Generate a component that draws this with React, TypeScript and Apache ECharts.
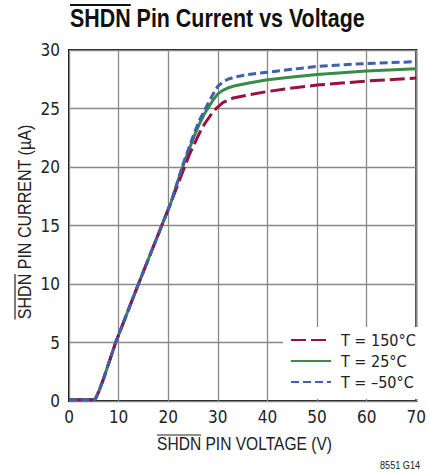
import React, { useEffect, useRef } from "react";
import * as echarts from "echarts";

// ---- data ----
const seriesNames = ["T = 150°C", "T = 25°C", "T = –50°C"];

// shared rising part of all three curves
const lowerVoltage = [0, 5.0, 5.4, 6.0, 7.0, 9.4, 14.0, 18.7, 20.5];
const lowerCurrent = [0.1, 0.1, 0.25, 0.8, 1.95, 5.0, 10.0, 15.0, 16.9];

const voltage150 = [23.3, 24.3, 25.3, 26.3, 27.2, 28.0, 29.0, 29.8, 31.0, 33.1, 36.0, 40.0, 45.0, 50.0, 60.0, 70.0];
const current150 = [20.0, 21.1, 22.0, 22.9, 23.6, 24.1, 24.7, 25.05, 25.5, 25.9, 26.15, 26.45, 26.75, 27.0, 27.35, 27.6];

const voltage25 = [22.9, 24.3, 25.3, 26.3, 27.3, 28.2, 29.0, 30.0, 31.0, 32.0, 33.5, 36.0, 40.0, 45.0, 50.0, 60.0, 70.0];
const current25 = [20.0, 21.6, 22.7, 23.7, 24.55, 25.15, 25.7, 26.25, 26.55, 26.75, 26.95, 27.15, 27.45, 27.7, 27.9, 28.2, 28.4];

const voltageM50 = [22.8, 24.3, 25.3, 26.3, 27.7, 28.5, 29.4, 30.0, 31.0, 32.0, 33.5, 36.0, 40.0, 45.0, 50.0, 60.0, 70.0];
const currentM50 = [20.0, 21.8, 22.95, 24.0, 25.15, 25.8, 26.5, 26.9, 27.25, 27.5, 27.7, 27.9, 28.1, 28.35, 28.6, 28.85, 29.0];

const xMin = 0, xMax = 70, xStep = 10;
const yMin = 0, yMax = 30, yStep = 5;

const titleText = "SHDN Pin Current vs Voltage";
const yName = "SHDN PIN CURRENT (µA)";
const xName = "SHDN PIN VOLTAGE (V)";
const overlined = "SHDN";
const figId = "8551 G14";

const TICK_FONT = '"DejaVu Sans Condensed", "Liberation Sans", sans-serif';
const TEXT_FONT = '"Liberation Sans", Arial, sans-serif';

function zip(xs: number[], ys: number[]) {
  return xs.map((x, i) => [x, ys[i]]);
}

function textWidth(text: string, size: number, weight: string) {
  const ctx = document.createElement("canvas").getContext("2d")!;
  ctx.font = `${weight} ${size}px ${TEXT_FONT}`;
  return ctx.measureText(text).width;
}

export default function App() {
  const ref = useRef<HTMLDivElement>(null);

  useEffect(() => {
    const chart = echarts.init(ref.current!, undefined, { renderer: "svg" });
    const lower = zip(lowerVoltage, lowerCurrent);

    // title
    const titleSize = 25;
    const titleX = 70, titleY = 18, titleW = 295;
    const sTitle = titleW / textWidth(titleText, titleSize, "bold");
    const wTitleS = textWidth(overlined, titleSize, "bold") * sTitle;
    // x axis name
    const nameSize = 18;
    const xNameCx = 244.5, xNameCy = 444, xNameW = 175;
    const sX = xNameW / textWidth(xName, nameSize, "normal");
    const wXS = textWidth(overlined, nameSize, "normal") * sX;
    // y axis name
    const yNameCx = 25, yNameCy = 222, yNameW = 195;
    const sY = yNameW / textWidth(yName, nameSize, "normal");
    const wYS = textWidth(overlined, nameSize, "normal") * sY;
    // figure id
    const sId = 40 / textWidth(figId, 11, "normal");

    const mk = (name: string, color: string, data: number[][], type: any, z: number) => ({
      name,
      type: "line",
      data: lower.concat(data),
      symbol: "none",
      smooth: false,
      z,
      lineStyle: { color, width: 3, type },
      itemStyle: { color },
    });

    chart.setOption({
      animation: false,
      grid: {
        left: 69,
        top: 50,
        width: 351,
        height: 351,
        show: true,
        borderColor: "#111",
        borderWidth: 2,
        backgroundColor: "transparent",
      },
      xAxis: {
        type: "value",
        min: xMin,
        max: xMax,
        interval: xStep,
        axisLine: { show: false },
        axisTick: { show: false },
        axisLabel: { fontFamily: TICK_FONT, fontSize: 17, color: "#222", margin: 7 },
        splitLine: { show: true, lineStyle: { color: "#888", width: 1.3 } },
      },
      yAxis: {
        type: "value",
        min: yMin,
        max: yMax,
        interval: yStep,
        axisLine: { show: false },
        axisTick: { show: false },
        axisLabel: { fontFamily: TICK_FONT, fontSize: 17, color: "#222", margin: 9 },
        splitLine: { show: true, lineStyle: { color: "#888", width: 1.3 } },
      },
      legend: {
        data: seriesNames,
        orient: "vertical",
        left: 283,
        top: 327,
        padding: [5, 5, 9, 7],
        itemGap: 5,
        itemWidth: 40,
        itemHeight: 14,
        itemStyle: { opacity: 0 },
        backgroundColor: "#fff",
        textStyle: { fontFamily: TICK_FONT, fontSize: 16, color: "#222", lineHeight: 16, padding: [0, 0, 0, 5] },
      },
      series: [
        mk(seriesNames[0], "#9b1040", zip(voltage150, current150), [15, 5], 3),
        mk(seriesNames[1], "#3a8a48", zip(voltage25, current25), "solid", 2),
        mk(seriesNames[2], "#3f5fb0", zip(voltageM50, currentM50), [8, 4], 4),
      ],
      graphic: [
        {
          type: "text",
          x: titleX,
          y: titleY,
          scaleX: sTitle,
          style: {
            text: titleText,
            x: 0,
            y: 0,
            textAlign: "left",
            textVerticalAlign: "middle",
            font: `bold ${titleSize}px ${TEXT_FONT}`,
            fill: "#111",
          },
        },
        {
          type: "line",
          shape: { x1: titleX, y1: 5, x2: titleX + wTitleS, y2: 5 },
          style: { stroke: "#111", lineWidth: 2 },
        },
        {
          type: "text",
          x: xNameCx,
          y: xNameCy,
          scaleX: sX,
          style: {
            text: xName,
            x: 0,
            y: 0,
            textAlign: "center",
            textVerticalAlign: "middle",
            font: `${nameSize}px ${TEXT_FONT}`,
            fill: "#222",
          },
        },
        {
          type: "line",
          shape: {
            x1: xNameCx - xNameW / 2,
            y1: xNameCy - 9,
            x2: xNameCx - xNameW / 2 + wXS,
            y2: xNameCy - 9,
          },
          style: { stroke: "#222", lineWidth: 1.2 },
        },
        {
          type: "text",
          x: yNameCx,
          y: yNameCy,
          rotation: Math.PI / 2,
          scaleX: sY,
          style: {
            text: yName,
            x: 0,
            y: 0,
            textAlign: "center",
            textVerticalAlign: "middle",
            font: `${nameSize}px ${TEXT_FONT}`,
            fill: "#222",
          },
        },
        {
          type: "line",
          shape: {
            x1: yNameCx - 10,
            y1: yNameCy + yNameW / 2,
            x2: yNameCx - 10,
            y2: yNameCy + yNameW / 2 - wYS,
          },
          style: { stroke: "#222", lineWidth: 1.2 },
        },
        {
          type: "text",
          x: 420,
          y: 465,
          scaleX: sId,
          style: {
            text: figId,
            x: 0,
            y: 0,
            textAlign: "right",
            textVerticalAlign: "middle",
            font: `11px ${TEXT_FONT}`,
            fill: "#222",
          },
        },
      ],
    });

    return () => chart.dispose();
  }, []);

  return (
    <div
      ref={ref}
      style={{ position: "fixed", left: 0, top: 0, width: 429, height: 473, background: "#fff" }}
    />
  );
}
